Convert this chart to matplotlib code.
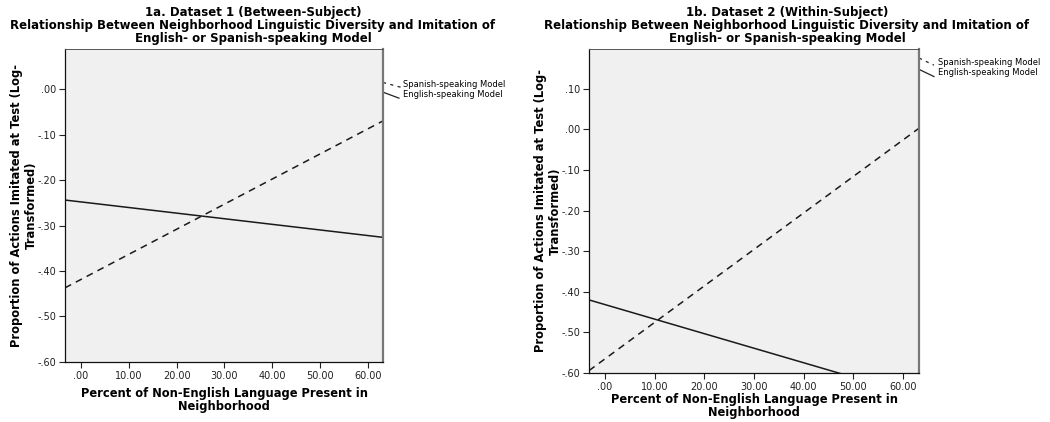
import matplotlib
matplotlib.use("Agg")
import matplotlib.pyplot as plt
from matplotlib.ticker import FuncFormatter, MultipleLocator

# Fitted lines: values at the two ends of each x axis
x_ds1 = [-3.3, 63.1]
english_ds1 = [-0.244, -0.326]
spanish_ds1 = [-0.437, -0.070]

x_ds2 = [-3.2, 63.2]
english_ds2 = [-0.420, -0.658]
spanish_ds2 = [-0.594, 0.003]

titles = ["1a. Dataset 1 (Between-Subject)", "1b. Dataset 2 (Within-Subject)"]
subtitle = ("Relationship Between Neighborhood Linguistic Diversity and Imitation of\n"
            "English- or Spanish-speaking Model")
xlabel = "Percent of Non-English Language Present in\nNeighborhood"
ylabel = "Proportion of Actions Imitated at Test (Log-\nTransformed)"
legend_labels = ["Spanish-speaking Model", "English-speaking Model"]

plt.rcParams['font.family'] = 'DejaVu Sans'


def spss_fmt(v, pos=None):
    s = "%.2f" % v
    if s.startswith("0."):
        s = s[1:]
    elif s.startswith("-0."):
        s = "-" + s[2:]
    if s == "-.00":
        s = ".00"
    return s


def panel(ax, x, eng, spa, ylim, xlim, xpad):
    ax.set_facecolor('#f0f0f0')
    ax.plot(x, eng, color='#1a1a1a', lw=1.1, solid_capstyle='butt')
    ax.plot(x, spa, color='#1a1a1a', lw=1.1, linestyle=(0, (4.5, 3.5)))
    ax.set_xlim(xlim)
    ax.set_ylim(ylim)
    ax.xaxis.set_major_locator(MultipleLocator(10))
    ax.yaxis.set_major_locator(MultipleLocator(0.1))
    ax.xaxis.set_major_formatter(FuncFormatter(spss_fmt))
    ax.yaxis.set_major_formatter(FuncFormatter(spss_fmt))
    ax.tick_params(direction='out', length=4.5, width=0.8, labelsize=7,
                   colors='#222222', pad=2)
    ax.tick_params(top=False, right=False)
    for side in ['left', 'bottom']:
        ax.spines[side].set_color('#111111')
        ax.spines[side].set_linewidth(0.9)
    ax.spines['top'].set_color('#555555')
    ax.spines['top'].set_linewidth(0.7)
    ax.spines['right'].set_color('#777777')
    ax.spines['right'].set_linewidth(1.6)
    ax.set_xlabel(xlabel, fontsize=8.3, fontweight='bold', labelpad=xpad,
                  linespacing=1.0)
    ax.set_ylabel(ylabel, fontsize=8.3, fontweight='bold', labelpad=-0.5,
                  linespacing=1.15)


fig = plt.figure(figsize=(10.5, 4.22), dpi=100, facecolor='white')
ax1 = fig.add_axes([0.0619, 0.1422, 0.3029, 0.7417])
ax2 = fig.add_axes([0.5610, 0.1161, 0.3143, 0.7678])

panel(ax1, x_ds1, english_ds1, spanish_ds1, (-0.6, 0.088), (x_ds1[0], x_ds1[1]), 4)
panel(ax2, x_ds2, english_ds2, spanish_ds2, (-0.6, 0.198), (x_ds2[0], x_ds2[1]), 0.5)

# titles
fig.text(253 / 1050, 1 - 6 / 422, titles[0] + "\n" + subtitle, ha='center', va='top',
         fontsize=8.5, fontweight='bold', linespacing=0.98)
fig.text(787 / 1050, 1 - 6 / 422, titles[1] + "\n" + subtitle, ha='center', va='top',
         fontsize=8.5, fontweight='bold', linespacing=0.98)

# SPSS style legend outside the plot, with slanted line keys
# dataset 1
ax1.plot([1.000, 1.055], [0.893, 0.878], transform=ax1.transAxes, clip_on=False,
         color='#222222', lw=0.9, linestyle=(0, (2.5, 3.5)))
ax1.plot([1.000, 1.050], [0.862, 0.843], transform=ax1.transAxes, clip_on=False,
         color='#222222', lw=0.9)
ax1.text(1.063, 0.885, legend_labels[0], transform=ax1.transAxes, fontsize=6,
         va='center', ha='left')
ax1.text(1.063, 0.856, legend_labels[1], transform=ax1.transAxes, fontsize=6,
         va='center', ha='left')
# dataset 2
ax2.plot([1.000, 1.045], [0.972, 0.950], transform=ax2.transAxes, clip_on=False,
         color='#222222', lw=0.9, linestyle=(0, (2.5, 3.5)))
ax2.plot([1.000, 1.045], [0.937, 0.915], transform=ax2.transAxes, clip_on=False,
         color='#222222', lw=0.9)
ax2.text(1.058, 0.957, legend_labels[0], transform=ax2.transAxes, fontsize=6,
         va='center', ha='left')
ax2.text(1.058, 0.926, legend_labels[1], transform=ax2.transAxes, fontsize=6,
         va='center', ha='left')

fig.savefig('out.png', dpi=100, facecolor='white')
